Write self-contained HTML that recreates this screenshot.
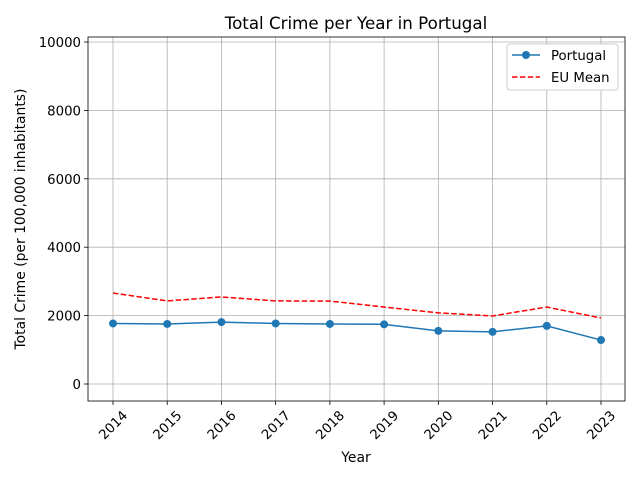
<!DOCTYPE html>
<html><head><meta charset="utf-8"><style>
body{margin:0;background:#fff;font-family:"Liberation Sans","DejaVu Sans",sans-serif;}
svg text{font-family:"DejaVu Sans","Liberation Sans",sans-serif;}
</style></head><body>
<svg id="chart" width="640" height="480" xmlns="http://www.w3.org/2000/svg"></svg>
<script>
const years=[2014,2015,2016,2017,2018,2019,2020,2021,2022,2023];
const portugal=[1770,1755,1810,1770,1755,1745,1555,1525,1700,1285];
const euMean=[2660,2430,2545,2430,2425,2250,2080,1990,2250,1930];
const yTicks=[0,2000,4000,6000,8000,10000];
const L=88,R=625,T=37,B=401,yMin=-497,yMax=10146;
const xs=i=>113+i*(601-113)/(years.length-1);
const ys=v=>B-(v-yMin)/(yMax-yMin)*(B-T);
const svg=document.getElementById('chart');
const NS='http://www.w3.org/2000/svg';
function mk(tag,attrs,name,txt){const e=document.createElementNS(NS,tag);for(const k in attrs)e.setAttribute(k,attrs[k]);


if(txt!==undefined)e.textContent=txt;svg.appendChild(e);return e;}
// grid
years.forEach((y,i)=>{mk('line',{x1:xs(i),x2:xs(i),y1:T,y2:B,stroke:'#b0b0b0','stroke-width':0.8},'x-grid-line');});
yTicks.forEach(v=>{mk('line',{x1:L,x2:R,y1:ys(v),y2:ys(v),stroke:'#b0b0b0','stroke-width':0.8},'y-grid-line');});
// ticks
years.forEach((y,i)=>{mk('line',{x1:xs(i),x2:xs(i),y1:B,y2:B+4,stroke:'#000','stroke-width':0.8},'x-tick');
mk('text',{x:0,y:0,'font-size':13.3,'text-anchor':'middle',dy:'0.35em',transform:`translate(${xs(i)},${B+24}) rotate(-45)`},'x-tick-label',y);});
yTicks.forEach(v=>{mk('line',{x1:L-4,x2:L,y1:ys(v),y2:ys(v),stroke:'#000','stroke-width':0.8},'y-tick');
mk('text',{x:L-7,y:ys(v)+5,'font-size':13.3,'text-anchor':'end'},'y-tick-label',v);});
// series
mk('polyline',{points:euMean.map((v,i)=>xs(i)+','+ys(v)).join(' '),fill:'none',stroke:'#ff0000','stroke-width':1.5,'stroke-dasharray':'5.5,2.4'},'eu-mean-line');
mk('polyline',{points:portugal.map((v,i)=>xs(i)+','+ys(v)).join(' '),fill:'none',stroke:'#1f77b4','stroke-width':1.5},'portugal-line');
portugal.forEach((v,i)=>{mk('circle',{cx:xs(i),cy:ys(v),r:4,fill:'#1f77b4'},'portugal-point');});
// frame
mk('rect',{x:L,y:T,width:R-L,height:B-T,fill:'none',stroke:'#000','stroke-width':0.8},'plot-frame');
mk('text',{x:356,y:29,'font-size':16.7,'text-anchor':'middle'},'chart-title','Total Crime per Year in Portugal');
mk('text',{x:356,y:462,'font-size':13.9,'text-anchor':'middle'},'x-axis-title','Year');
mk('text',{x:0,y:0,'font-size':13.9,'text-anchor':'middle',transform:'translate(25,219) rotate(-90)'},'y-axis-title','Total Crime (per 100,000 inhabitants)');
// legend
mk('rect',{x:507,y:44,width:111,height:46,fill:'#fff',stroke:'#ccc',rx:3},'legend-box');
mk('line',{x1:512,x2:540,y1:55,y2:55,stroke:'#1f77b4','stroke-width':1.5},'legend-portugal-line');
mk('circle',{cx:526,cy:55,r:4,fill:'#1f77b4'},'legend-portugal-marker');
mk('text',{x:551,y:60,'font-size':13.3},'legend-portugal-label','Portugal');
mk('line',{x1:512,x2:540,y1:77,y2:77,stroke:'#ff0000','stroke-width':1.5,'stroke-dasharray':'5.5,2.4'},'legend-eu-line');
mk('text',{x:551,y:82,'font-size':13.3},'legend-eu-label','EU Mean');
</script>
</body></html>
